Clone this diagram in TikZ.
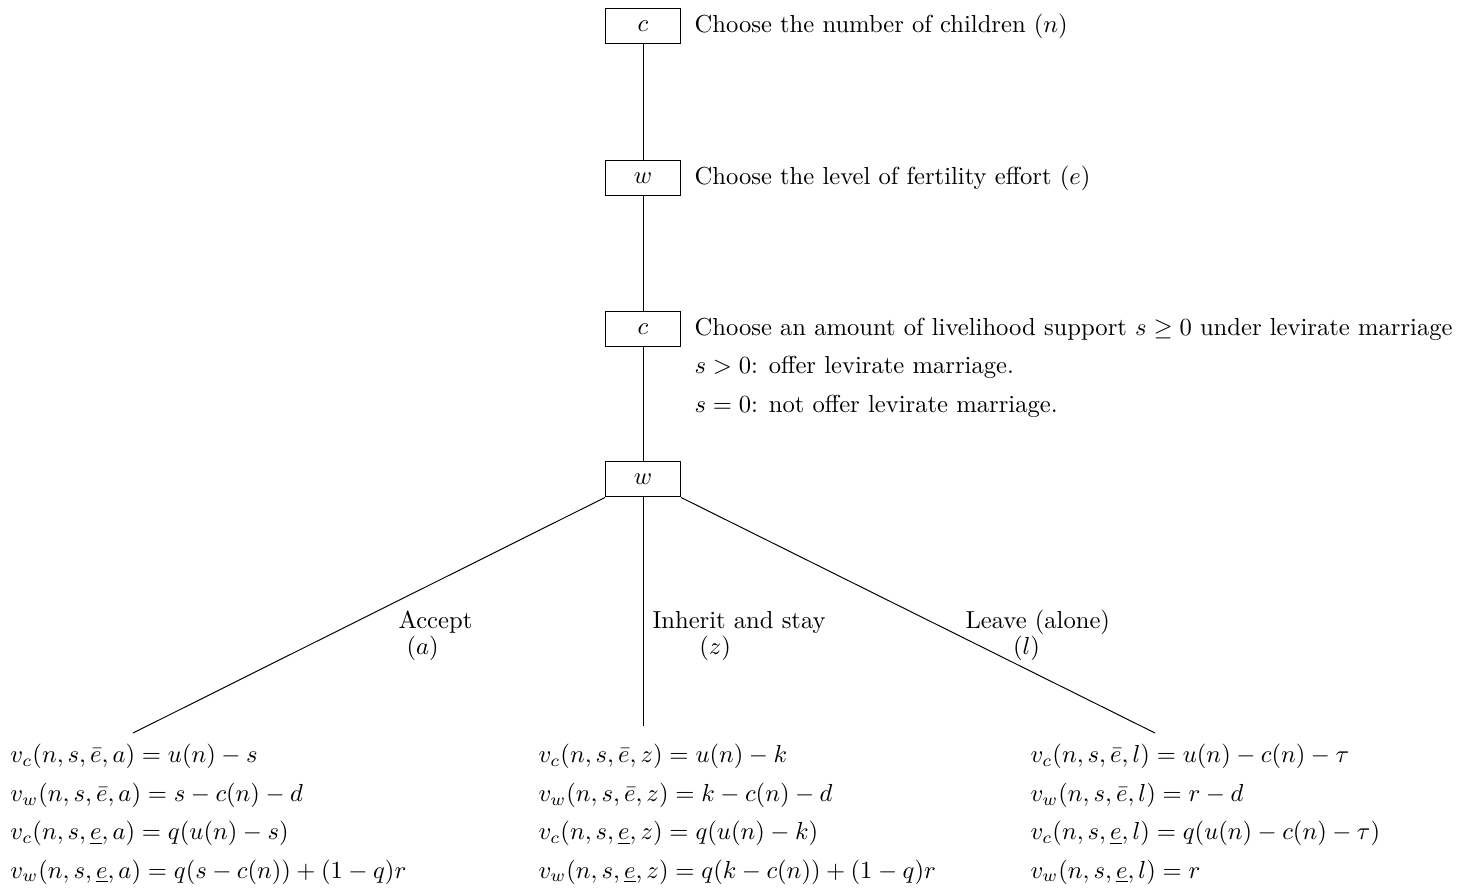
\documentclass[tikz,border=0pt]{standalone}
\usetikzlibrary{positioning}
\begin{document}
\begin{tikzpicture}[x=0.01428cm,y=-0.01428cm,
        player/.style={draw,minimum width=30.5pt,minimum height=14.6pt,inner sep=0pt},
        desc/.style={anchor=west,inner sep=0pt},
        choice/.style={anchor=base west,inner sep=0pt,align=left},
        payoff/.style={anchor=north west,inner sep=0pt,align=left}]
        \useasboundingbox(0,0)rectangle(1460,890);
        % stages
        \node[player](c1)at(643,26){$c$};
        \node[player](w1)at(643,178){$w$};
        \node[player](c2)at(643,329){$c$};
        \node[player](w2)at(643,479){$w$};
        \node[desc,right=5.3pt of c1](d1){Choose the number of children $(n)$};
        \node[desc,right=5.3pt of w1](d2){Choose the level of fertility effort $(e)$};
        \node[desc,right=5.3pt of c2](d3){Choose an amount of livelihood support $s\geq 0$ under levirate marriage};
        \node[desc](d4)at(694,367){$s>0$: offer levirate marriage.};
        \node[desc](d5)at(694,406){$s=0$: not offer levirate marriage.};
        \draw(c1)--(w1);
        \draw(w1)--(c2);
        \draw(c2)--(w2);
        % branches
        \coordinate(A)at(133,733);
        \coordinate(Z)at(643,726);
        \coordinate(L)at(1155,733);
        \draw(w2.south west)--(A);
        \draw(w2.south)--(Z);
        \draw(w2.south east)--(L);
        \node[choice](la)at(398,654){Accept\\[-1.5pt]\hspace*{3.3pt}$(a)$};
        \node[choice](lz)at(652,654){Inherit and stay\\[-1.5pt]\hspace*{19pt}$(z)$};
        \node[choice](ll)at(965,654){Leave (alone)\\[-1.5pt]\hspace*{19.3pt}$(l)$};
        % payoffs
        \node[payoff](pa)at(10,744){$v_c(n,s,\bar{e},a)=u(n)-s$\\[3.6pt]
            $v_w(n,s,\bar{e},a)=s-c(n)-d$\\[3.6pt]
            $v_c(n,s,\underline{e},a)=q(u(n)-s)$\\[3.6pt]
            $v_w(n,s,\underline{e},a)=q(s-c(n))+(1-q)r$};
        \node[payoff](pz)at(538,744){$v_c(n,s,\bar{e},z)=u(n)-k$\\[3.6pt]
            $v_w(n,s,\bar{e},z)=k-c(n)-d$\\[3.6pt]
            $v_c(n,s,\underline{e},z)=q(u(n)-k)$\\[3.6pt]
            $v_w(n,s,\underline{e},z)=q(k-c(n))+(1-q)r$};
        \node[payoff](pl)at(1030,744){$v_c(n,s,\bar{e},l)=u(n)-c(n)-\tau$\\[3.6pt]
            $v_w(n,s,\bar{e},l)=r-d$\\[3.6pt]
            $v_c(n,s,\underline{e},l)=q(u(n)-c(n)-\tau)$\\[3.6pt]
            $v_w(n,s,\underline{e},l)=r$};
    \end{tikzpicture}
\end{document}
